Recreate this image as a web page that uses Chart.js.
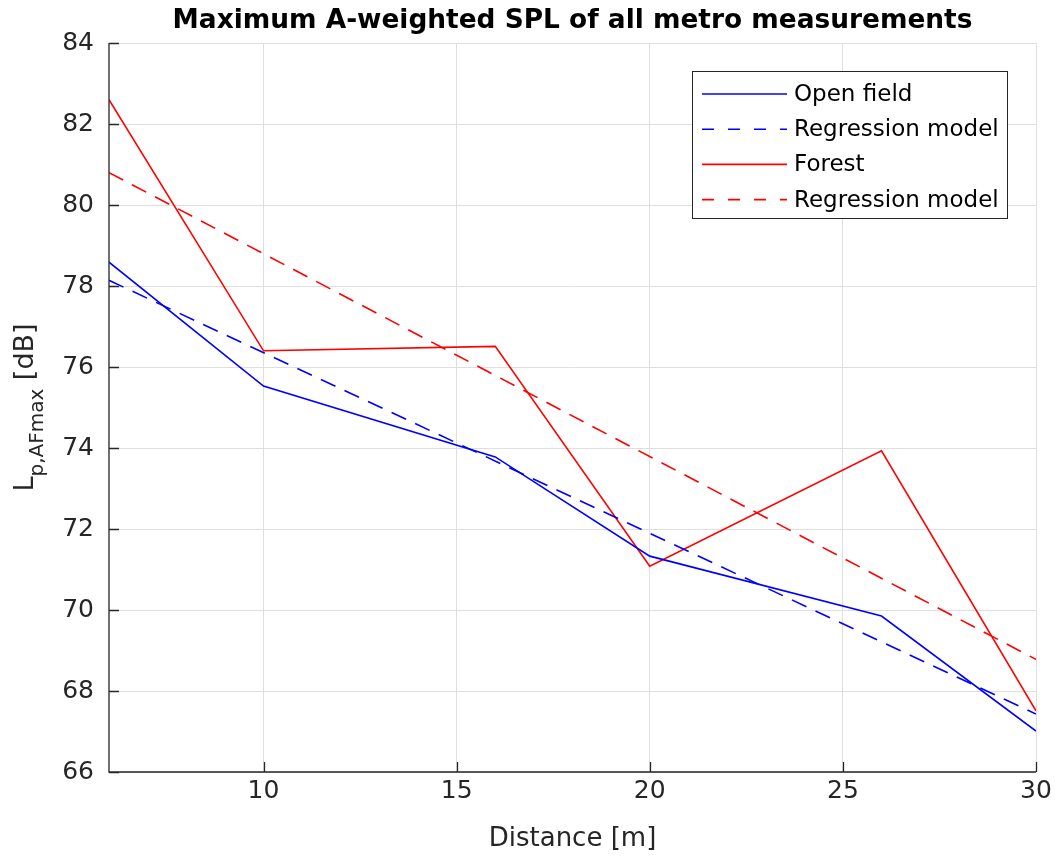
<!DOCTYPE html>
<html>
<head>
<meta charset="utf-8">
<script src="https://cdn.jsdelivr.net/npm/chart.js@4/dist/chart.umd.min.js"></script>
<style>
  body { margin: 0; background: #fff; }
  canvas { display: block; }
</style>
</head>
<body>
<canvas id="spl" width="1055" height="862"></canvas>
<script>
// measured maxima per distance
const distances = [6, 10, 16, 20, 26, 30]
const openField = [78.59, 75.53, 73.78, 71.33, 69.85, 67.01]
const forest = [82.60, 76.40, 76.51, 71.08, 73.93, 67.51]

// linear regression lines, end points
const fitDistances = [6, 30]
const openFieldFit = [78.14, 67.43]
const forestFit = [80.80, 68.78]

const xTicks = [10, 15, 20, 25, 30]
const yTicks = [66, 68, 70, 72, 74, 76, 78, 80, 82, 84]

const FONT = "'DejaVu Sans', sans-serif"
const AXIS_COLOR = '#262626'
const GRID_COLOR = '#dfdfdf'
const BLUE = '#0000ff'
const RED = '#ff0000'
const LINE_DASH = [16, 10]
const LEGEND_DASH = [12, 14]

const toPoints = (xs, ys) => xs.map((x, i) => ({ x, y: ys[i] }))

const series = (label, xs, ys, color, dashed) => ({
  label,
  data: toPoints(xs, ys),
  borderColor: color,
  backgroundColor: color,
  borderWidth: 1.6,
  borderDash: dashed ? LINE_DASH : [],
  legendDash: dashed ? LEGEND_DASH : [],
  pointRadius: 0,
  tension: 0,
  fill: false
})

// title, axis labels, inward ticks, axis lines and the boxed legend
const decorations = {
  id: 'decorations',
  afterDraw (chart) {
    const { ctx, chartArea: area, scales: { x, y } } = chart
    ctx.save()

    ctx.strokeStyle = AXIS_COLOR
    ctx.lineWidth = 1.3
    ctx.beginPath()
    yTicks.forEach(v => {
      const py = Math.round(y.getPixelForValue(v)) + 0.5
      ctx.moveTo(area.left, py)
      ctx.lineTo(area.left + 10, py)
    })
    xTicks.forEach(v => {
      const px = Math.round(x.getPixelForValue(v)) + 0.5
      ctx.moveTo(px, area.bottom)
      ctx.lineTo(px, area.bottom - 10)
    })
    ctx.moveTo(area.left, area.top)
    ctx.lineTo(area.left, area.bottom)
    ctx.lineTo(area.right, area.bottom)
    ctx.stroke()

    const midX = (area.left + area.right) / 2
    const midY = (area.top + area.bottom) / 2

    ctx.fillStyle = '#000'
    ctx.font = `bold 26.4px ${FONT}`
    ctx.textAlign = 'center'
    ctx.textBaseline = 'alphabetic'
    ctx.fillText('Maximum A-weighted SPL of all metro measurements', midX, 28)

    ctx.fillStyle = AXIS_COLOR
    ctx.font = `26px ${FONT}`
    ctx.fillText('Distance [m]', midX, 846)

    // y label with subscript, read bottom to top
    const parts = [
      { text: 'L', font: `27px ${FONT}`, dy: 0 },
      { text: 'p,AFmax', font: `20px ${FONT}`, dy: 10 },
      { text: ' [dB]', font: `27px ${FONT}`, dy: 0 }
    ]
    const widths = parts.map(p => { ctx.font = p.font; return ctx.measureText(p.text).width })
    const total = widths.reduce((a, b) => a + b, 0)
    ctx.save()
    ctx.translate(33, midY)
    ctx.rotate(-Math.PI / 2)
    ctx.textAlign = 'left'
    let cx = -total / 2
    parts.forEach((p, i) => {
      ctx.font = p.font
      ctx.fillText(p.text, cx, p.dy)
      cx += widths[i]
    })
    ctx.restore()

    // legend box
    const box = { left: 692.5, top: 71.5, width: 315, height: 147 }
    ctx.fillStyle = '#fff'
    ctx.fillRect(box.left, box.top, box.width, box.height)
    ctx.strokeStyle = AXIS_COLOR
    ctx.lineWidth = 1
    ctx.setLineDash([])
    ctx.strokeRect(box.left, box.top, box.width, box.height)

    ctx.font = `23px ${FONT}`
    ctx.textAlign = 'left'
    ctx.textBaseline = 'middle'
    chart.data.datasets.forEach((ds, i) => {
      const rowY = 94 + i * 35.2
      ctx.strokeStyle = ds.borderColor
      ctx.lineWidth = 1.6
      ctx.setLineDash(ds.legendDash)
      ctx.beginPath()
      ctx.moveTo(702, rowY)
      ctx.lineTo(787, rowY)
      ctx.stroke()
      ctx.fillStyle = '#000'
      ctx.fillText(ds.label, 794, rowY + 1)
    })

    ctx.restore()
  }
}

const chart = new Chart(document.getElementById('spl'), {
  type: 'line',
  data: {
    datasets: [
      series('Open field', distances, openField, BLUE, false),
      series('Regression model', fitDistances, openFieldFit, BLUE, true),
      series('Forest', distances, forest, RED, false),
      series('Regression model', fitDistances, forestFit, RED, true)
    ]
  },
  options: {
    responsive: false,
    animation: false,
    devicePixelRatio: 1,
    layout: {
      padding: { top: 43, right: 19, left: 0, bottom: 0 }
    },
    plugins: {
      legend: { display: false },
      tooltip: { enabled: false },
      title: { display: false }
    },
    scales: {
      x: {
        type: 'linear',
        min: 6,
        max: 30,
        afterBuildTicks: scale => { scale.ticks = xTicks.map(value => ({ value })) },
        afterFit: scale => {
          scale.height = 90
          scale.paddingLeft = 0
          scale.paddingRight = 0
        },
        grid: { color: GRID_COLOR, lineWidth: 1, drawTicks: false },
        border: { display: false },
        ticks: {
          padding: 4,
          color: AXIS_COLOR,
          font: { family: FONT, size: 25 },
          maxRotation: 0
        }
      },
      y: {
        min: 66,
        max: 84,
        afterBuildTicks: scale => { scale.ticks = yTicks.map(value => ({ value })) },
        afterFit: scale => {
          scale.width = 109
          scale.paddingTop = 0
          scale.paddingBottom = 0
        },
        grid: { color: GRID_COLOR, lineWidth: 1, drawTicks: false },
        border: { display: false },
        ticks: {
          padding: 15,
          color: AXIS_COLOR,
          font: { family: FONT, size: 25 }
        }
      }
    }
  },
  plugins: [decorations]
})
</script>
</body>
</html>
